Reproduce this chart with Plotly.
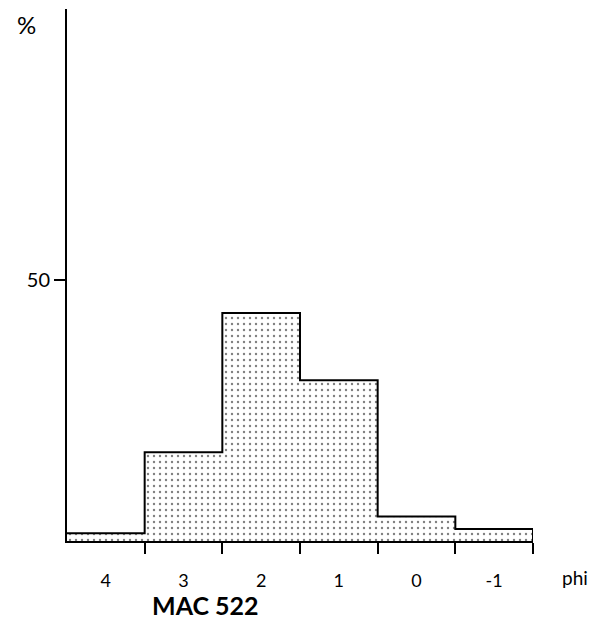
import plotly.graph_objects as go

# Kornfordeling, phi-klasser (senter) og prosentandel
phi = [4, 3, 2, 1, 0, -1]
prosent = [1.5, 17.0, 43.7, 30.8, 4.7, 2.3]
phi_labels = ["4", "3", "2", "1", "0", "-1"]
y_ticks = [50]

# Klassegrenser for trappekurva
kanter = [p + 0.5 for p in phi] + [phi[-1] - 0.5]
trapp_x = kanter + [kanter[-1]]
trapp_y = prosent + [prosent[-1], 0]

font = "Lato, 'Open Sans', sans-serif"

fig = go.Figure()

fig.add_trace(go.Scatter(
    x=trapp_x, y=trapp_y, mode="lines", line_shape="hv",
    line=dict(color="black", width=2),
    fill="tozeroy", fillcolor="white",
    fillpattern=dict(shape=".", fgcolor="black", bgcolor="white", size=6, solidity=0.12),
    hoverinfo="skip", showlegend=False,
))

fig.update_xaxes(
    range=[kanter[0], kanter[-1]], automargin=False,
    tickmode="array", tickvals=phi, ticktext=phi_labels,
    ticks="", ticklabelstandoff=22,
    tickfont=dict(family=font, size=18, color="black"),
    minor=dict(tickmode="array", tickvals=kanter[1:], ticks="outside",
               ticklen=11, tickwidth=1.5, tickcolor="black"),
    showline=True, linecolor="black", linewidth=2,
    showgrid=False, zeroline=False,
)

fig.update_yaxes(
    range=[0, 102], automargin=False,
    tickmode="array", tickvals=y_ticks,
    ticks="outside", ticklen=11, tickwidth=1.5, tickcolor="black",
    tickfont=dict(family=font, size=20, color="black"),
    showline=True, linecolor="black", linewidth=2,
    showgrid=False, zeroline=False,
)

tekster = [
    dict(x=-0.086, y=0.97, text="%", size=24),
    dict(x=1.09, y=-0.0695, text="phi", size=19),
    dict(x=0.298, y=-0.12, text="<b>MAC 522</b>", size=25),
]
for t in tekster:
    fig.add_annotation(xref="paper", yref="paper", x=t["x"], y=t["y"], text=t["text"],
                       xanchor="center", yanchor="middle", showarrow=False,
                       font=dict(family=font, size=t["size"], color="black"))

# siden har 8 px body-marg, så margene er justert for det
fig.update_layout(
    width=603, height=627,
    margin=dict(l=59, r=78, t=1, b=94),
    plot_bgcolor="white", paper_bgcolor="white",
)

fig.write_html("out.html")
